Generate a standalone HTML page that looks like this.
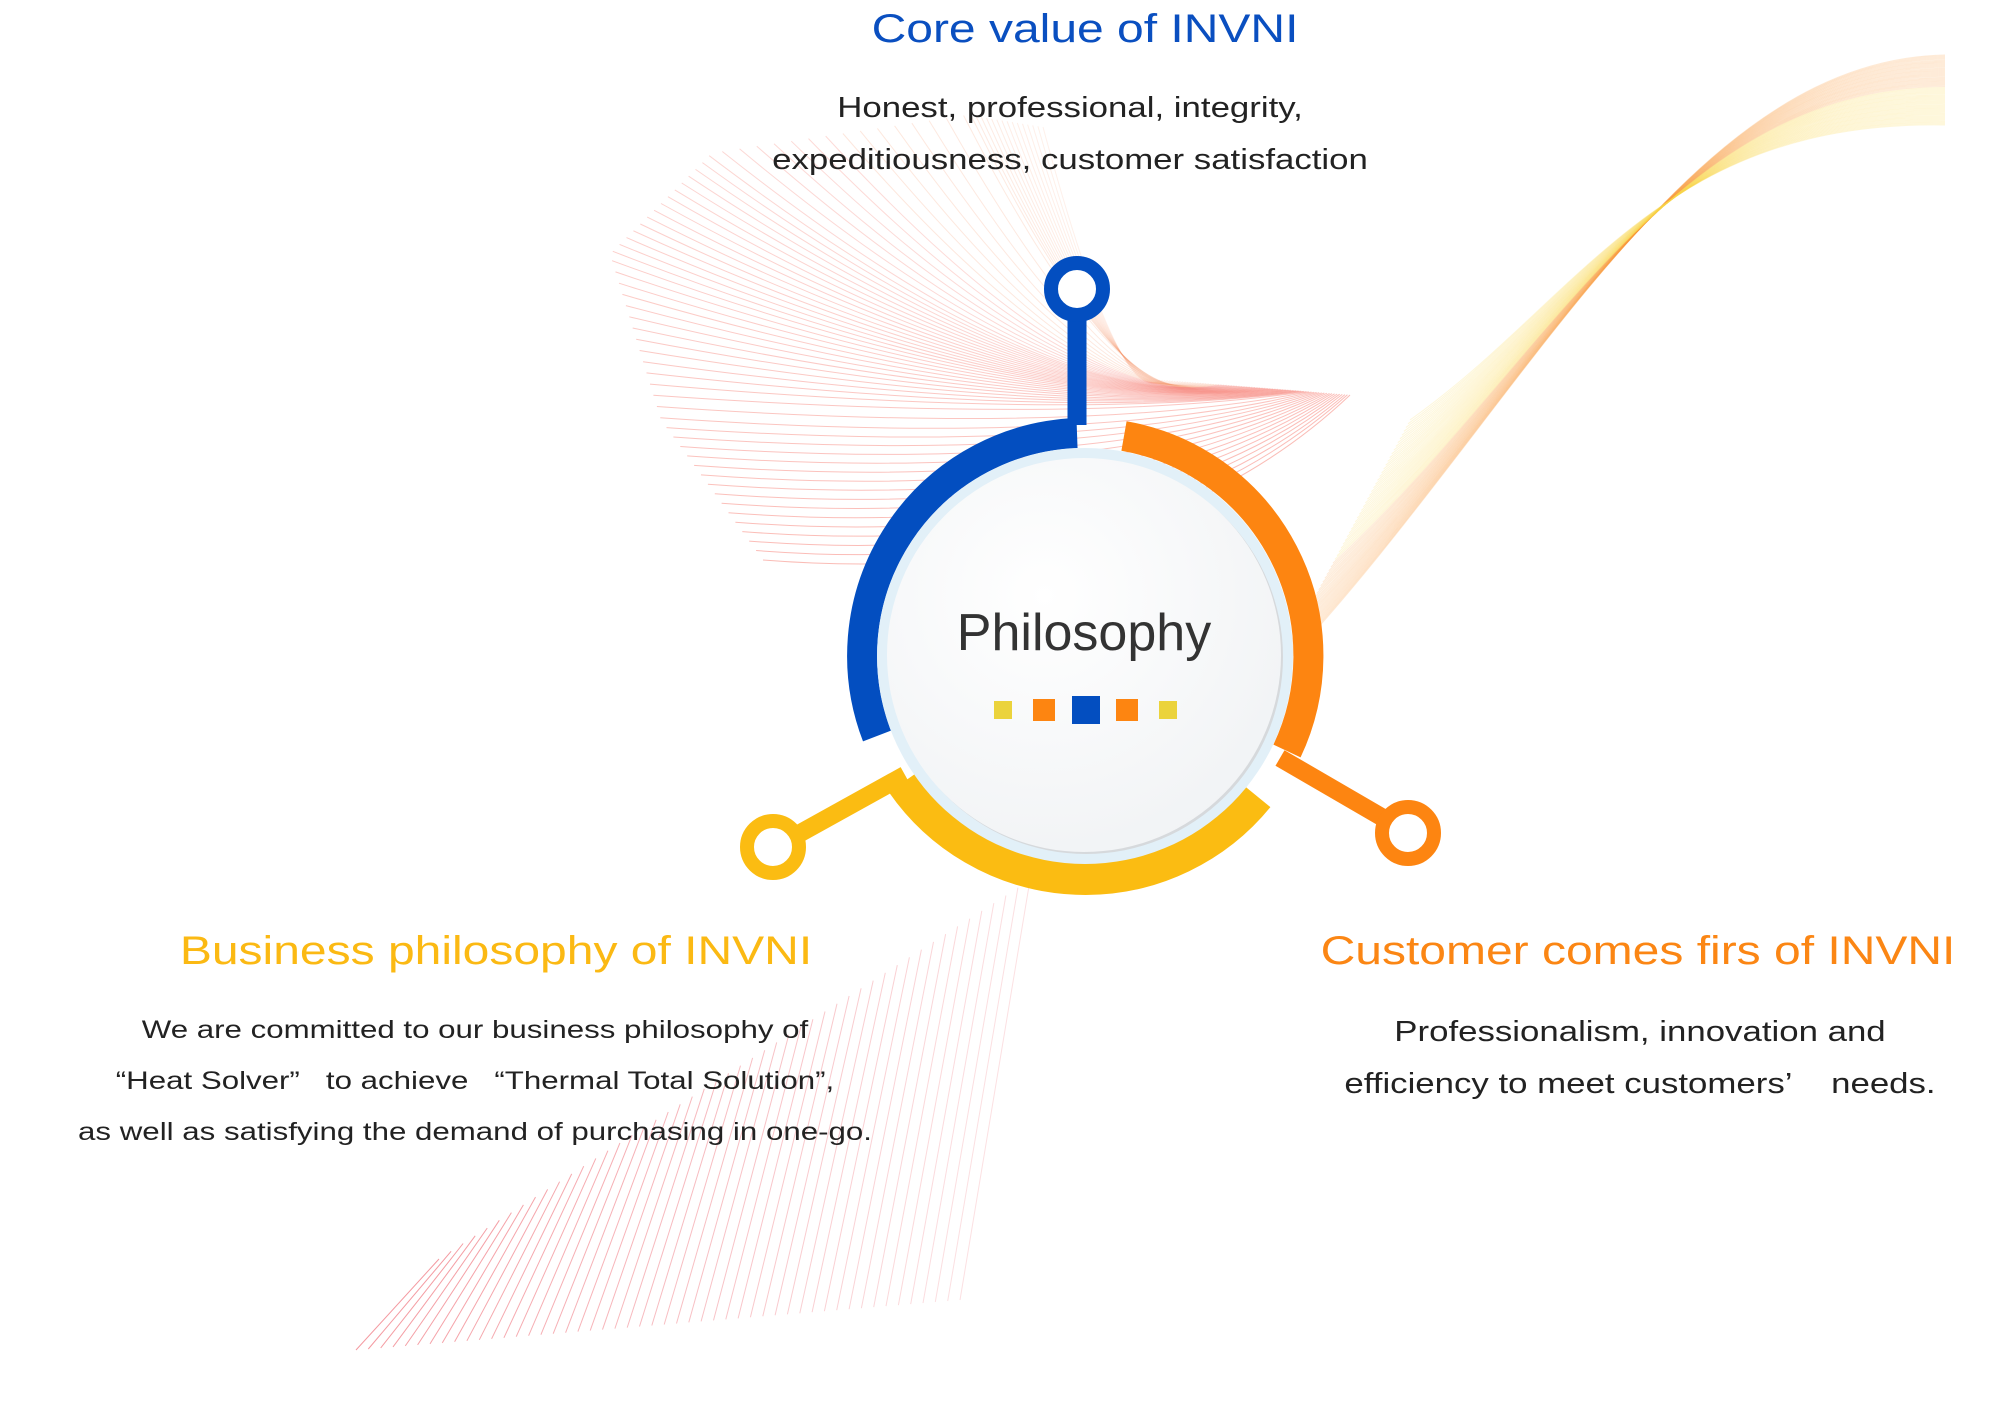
<!DOCTYPE html>
<html><head><meta charset="utf-8">
<style>
html,body{margin:0;padding:0;background:#fff;}
#root{position:relative;width:1995px;height:1408px;overflow:hidden;font-family:"Liberation Sans",sans-serif;}
svg{position:absolute;left:0;top:0;}
.t{position:absolute;text-align:center;white-space:nowrap;transform:translateX(-50%) scaleX(1.2);}
</style></head>
<body><div id="root">
<svg id="deco" width="1995" height="1408" viewBox="0 0 1995 1408"></svg>
<svg width="1995" height="1408" viewBox="0 0 1995 1408">
<defs>
<radialGradient id="g1" cx="0.4" cy="0.35" r="0.7"><stop offset="0" stop-color="#ffffff"/><stop offset="1" stop-color="#f1f3f5"/></radialGradient>
</defs>
<path d="M 902 783 A 223 223 0 0 0 1258 797" fill="none" stroke="#fbbc12" stroke-width="32"/>
<path d="M 877 736 A 223 223 0 0 1 1077 433" fill="none" stroke="#034ec0" stroke-width="30"/>
<path d="M 1124 436 A 223 223 0 0 1 1287 751" fill="none" stroke="#fd8511" stroke-width="30"/>
<line x1="1077" y1="425" x2="1077" y2="318" stroke="#034ec0" stroke-width="19"/>
<circle cx="1077" cy="289" r="26" fill="#fff" stroke="#034ec0" stroke-width="14"/>
<line x1="1280" y1="758" x2="1385" y2="819" stroke="#fd8511" stroke-width="18"/>
<circle cx="1408" cy="833" r="26" fill="#fff" stroke="#fd8511" stroke-width="14"/>
<line x1="905" y1="775" x2="795" y2="836" stroke="#fbbc12" stroke-width="18"/>
<circle cx="773" cy="847" r="26" fill="#fff" stroke="#fbbc12" stroke-width="14"/>
<circle cx="1085" cy="656" r="208" fill="#e2f0f8"/>
<circle cx="1086" cy="657" r="197" fill="#d6d9dc"/>
<circle cx="1084" cy="655" r="197" fill="url(#g1)"/>
<rect x="994" y="701" width="18" height="18" fill="#ebd33c"/>
<rect x="1033" y="699" width="22" height="22" fill="#fd8511"/>
<rect x="1072" y="696" width="28" height="28" fill="#034ec0"/>
<rect x="1116" y="699" width="22" height="22" fill="#fd8511"/>
<rect x="1159" y="701" width="18" height="18" fill="#ebd33c"/>
</svg>
<div class="t" style="left:1085px;top:7px;font-size:40px;color:#0a4fc0;">Core value of INVNI</div>
<div class="t" style="left:1070px;top:82px;font-size:29px;line-height:52px;color:#222;">Honest, professional, integrity,<br>expeditiousness, customer satisfaction</div>
<div class="t" style="left:1084px;top:603px;font-size:52px;color:#333;transform:translateX(-50%);">Philosophy</div>
<div class="t" style="left:496px;top:929px;font-size:40px;color:#fbb913;">Business philosophy of INVNI</div>
<div class="t" style="left:475px;top:1005px;font-size:25px;line-height:51px;color:#222;transform:translateX(-50%) scaleX(1.25);">We are committed to our business philosophy of<br>“Heat Solver”&nbsp;&nbsp; to achieve &nbsp;&nbsp;“Thermal Total Solution”,<br>as well as satisfying the demand of purchasing in one-go.</div>
<div class="t" style="left:1638px;top:929px;font-size:40px;color:#fb8614;">Customer comes firs of INVNI</div>
<div class="t" style="left:1640px;top:1006px;font-size:29px;line-height:52px;color:#222;">Professionalism, innovation and<br>efficiency to meet customers’&nbsp;&nbsp;&nbsp; needs.</div>
</div>
<script>
(function(){
var s=document.getElementById('deco'),h='';
function L(d,c,o,w){h+='<path d="'+d+'" fill="none" stroke="'+c+'" stroke-opacity="'+o+'" stroke-width="'+(w||1)+'"/>';}
function f(v){return v.toFixed(1);}
for(var i=0;i<70;i++){var t=i/69;
 var x0=1270+t*140,y0=680-t*260;
 var c1x=1520+t*60,c1y=420-t*120;
 var c2x=1680-t*20,c2y=60+t*60;
 var x1=1945,y1=55+t*70;
 var col=t<0.45?'#fb9a3c':'#fbd54a';
 L('M'+f(x0)+' '+f(y0)+' C'+c1x+' '+c1y+' '+c2x+' '+c2y+' '+x1+' '+y1,col,0.2);}
var P=[[1043,127],[967,115],[712,153],[610,254],[661,420],[763,560]];
function along(t){var n=P.length-1,u=t*n,k=Math.min(Math.floor(u),n-1),r=u-k;return [P[k][0]+(P[k+1][0]-P[k][0])*r,P[k][1]+(P[k+1][1]-P[k][1])*r];}
for(var i=0;i<75;i++){var t=i/74;var a=along(t);
 var ex=1160+t*190, ey=380+t*15;
 var cx=a[0]*0.35+ex*0.65, cy=Math.max(a[1],ey)+30;
 var col=t<0.3?'#f79a70':'#f56a5e';
 L('M'+f(a[0])+' '+f(a[1])+' Q'+f(cx)+' '+f(cy)+' '+f(ex)+' '+f(ey),col,0.15+0.3*t);}
for(var i=0;i<50;i++){var t=i/49;
 var tx=439+591*t, ty=1259-379*t;
 var bx=356+604*t, by=1350-50*t;
 L('M'+f(tx)+' '+f(ty)+' L'+f(bx)+' '+f(by),'#ec5560',0.6*(1-t*0.7));}
s.innerHTML=h;})();
</script>
</body></html>
